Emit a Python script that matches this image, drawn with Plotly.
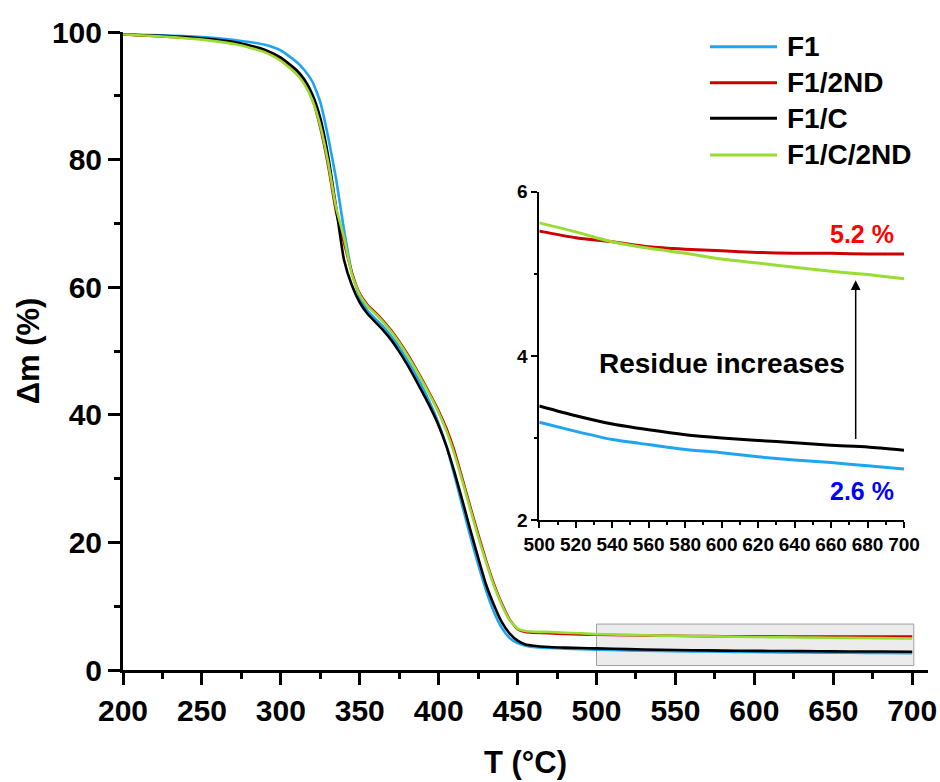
import plotly.graph_objects as go

# ---------------- data ----------------
T_main = [200, 225, 250, 275, 290, 300, 310, 315, 320, 325, 330, 335, 340, 345, 350,
          355, 360, 365, 370, 375, 380, 385, 390, 395, 400, 405, 410, 415, 420, 425,
          430, 435, 440, 445, 450, 455, 460, 470, 480, 490]
f1 = [99.6, 99.5, 99.2, 98.6, 98.0, 97.1, 95.3, 94.0, 92.2, 89.0, 83.5, 77.0, 69.0, 62.3, 58.4,
      56.3, 55.0, 53.8, 52.3, 50.6, 48.6, 46.5, 44.2, 41.6, 38.6, 35.0, 30.5, 25.7, 21.0, 16.6,
      12.5, 9.1, 6.6, 5.0, 4.2, 3.8, 3.6, 3.45, 3.35, 3.27]
f1_2nd = [99.6, 99.3, 98.9, 98.0, 96.9, 95.6, 93.5, 91.9, 89.4, 85.0, 79.0, 71.8, 67.0, 62.3, 59.0,
          57.2, 56.0, 54.7, 53.2, 51.5, 49.6, 47.5, 45.3, 43.0, 40.6, 37.8, 34.3, 30.0, 25.6, 21.3,
          17.2, 13.5, 10.4, 7.9, 6.4, 5.95, 5.85, 5.75, 5.65, 5.58]
f1_c = [99.6, 99.4, 99.0, 98.2, 97.2, 96.0, 94.0, 92.5, 90.2, 86.5, 80.5, 72.5, 64.3, 60.3, 57.6,
        55.8, 54.5, 53.2, 51.7, 49.9, 47.9, 45.7, 43.4, 41.0, 38.3, 35.0, 31.0, 26.6, 22.0, 17.6,
        13.4, 10.2, 7.5, 5.7, 4.6, 4.0, 3.8, 3.6, 3.5, 3.45]
f1_c_2nd = [99.6, 99.3, 98.8, 97.9, 96.8, 95.5, 93.4, 91.8, 89.3, 85.3, 79.5, 72.5, 67.8, 62.0, 58.8,
            57.0, 55.8, 54.5, 53.0, 51.3, 49.4, 47.3, 45.1, 42.8, 40.3, 37.4, 33.8, 29.6, 25.2, 20.9,
            16.9, 13.2, 10.2, 7.8, 6.5, 6.1, 6.0, 5.95, 5.85, 5.75]

T_tail = [500, 520, 540, 560, 580, 600, 620, 640, 660, 680, 700]
f1_tail = [3.19, 3.08, 2.98, 2.92, 2.86, 2.82, 2.77, 2.73, 2.70, 2.66, 2.62]
f1_2nd_tail = [5.52, 5.44, 5.39, 5.33, 5.30, 5.28, 5.26, 5.25, 5.25, 5.24, 5.24]
f1_c_tail = [3.39, 3.27, 3.17, 3.10, 3.04, 3.00, 2.97, 2.94, 2.91, 2.89, 2.85]
f1_c_2nd_tail = [5.62, 5.51, 5.39, 5.31, 5.25, 5.18, 5.13, 5.08, 5.03, 4.99, 4.94]

names = ["F1", "F1/2ND", "F1/C", "F1/C/2ND"]
colors = ["#1ea5f2", "#cc0000", "#000000", "#99dd33"]
series_main = [f1, f1_2nd, f1_c, f1_c_2nd]
series_tail = [f1_tail, f1_2nd_tail, f1_c_tail, f1_c_2nd_tail]

label_high = "5.2 %"
label_low = "2.6 %"
label_arrow = "Residue increases"

# ---------------- layout geometry ----------------
W, H = 940, 782
L, R, TOP, BOT = 123, 12, 32, 112
PW, PH = W - L - R, H - TOP - BOT


def px(x):
    return (x - L) / PW


def py(y):
    return (H - BOT - y) / PH


FONT = "Liberation Sans, Arial, Helvetica, sans-serif"

fig = go.Figure()

for name, col, ym, yt in zip(names, colors, series_main, series_tail):
    fig.add_trace(go.Scatter(x=T_main + T_tail, y=ym + yt, mode="lines", name=name,
                             line=dict(color=col, width=2.6, shape="spline", smoothing=0.5),
                             showlegend=False, xaxis="x", yaxis="y"))

for name, col, yt in zip(names, colors, series_tail):
    fig.add_trace(go.Scatter(x=T_tail, y=yt, mode="lines", name=name,
                             line=dict(color=col, width=3, shape="spline", smoothing=0.6),
                             showlegend=False, xaxis="x2", yaxis="y2"))

axis_common = dict(showline=True, linecolor="black", ticks="outside", tickcolor="black",
                   showgrid=False, zeroline=False, automargin=False)

fig.update_layout(
    width=W, height=H,
    margin=dict(l=L, r=R, t=TOP, b=BOT, autoexpand=False),
    plot_bgcolor="white", paper_bgcolor="white",
    font=dict(family=FONT, color="black"),
    xaxis=dict(**axis_common, range=[200, 710], dtick=50, tick0=200, linewidth=3,
               ticklen=12, tickwidth=2.5,
               minor=dict(dtick=25, ticklen=6, tickwidth=2.5, ticks="outside", tickcolor="black"),
               tickfont=dict(size=30, weight="bold", family=FONT),
               title=dict(text="T (°C)", font=dict(size=31, weight="bold", family=FONT), standoff=26)),
    yaxis=dict(**axis_common, range=[0, 100], dtick=20, linewidth=3,
               ticklen=12, tickwidth=2.5,
               minor=dict(dtick=10, ticklen=6, tickwidth=2.5, ticks="outside", tickcolor="black"),
               tickfont=dict(size=30, weight="bold", family=FONT),
               title=dict(text="Δm (%)", font=dict(size=31, weight="bold", family=FONT), standoff=4)),
    xaxis2=dict(**axis_common, domain=[px(539.3), px(904)], anchor="y2", range=[500, 700],
                dtick=20, linewidth=2, ticklen=6, tickwidth=2,
                minor=dict(dtick=10, ticklen=3, tickwidth=1.5, ticks="outside", tickcolor="black"),
                tickfont=dict(size=19, weight="bold", family=FONT)),
    yaxis2=dict(**axis_common, domain=[py(520), py(191.7)], anchor="x2", range=[2, 6],
                tickvals=[2, 4, 6], linewidth=2, ticklen=6, tickwidth=2,
                minor=dict(dtick=1, ticklen=3, tickwidth=1.5, ticks="outside", tickcolor="black"),
                tickfont=dict(size=19, weight="bold", family=FONT)),
)

# highlighted region on the main plot
fig.add_shape(type="rect", xref="x", yref="y", x0=500, x1=701, y0=0.7, y1=7.2,
              fillcolor="rgba(200,200,200,0.35)", line=dict(color="#a0a0a0", width=1),
              layer="below")

# manual legend
leg_y = [46.7, 82.7, 118.3, 155]
for name, col, yy in zip(names, colors, leg_y):
    fig.add_shape(type="line", xref="paper", yref="paper", x0=px(710), x1=px(777),
                  y0=py(yy), y1=py(yy), line=dict(color=col, width=3))
    fig.add_annotation(xref="paper", yref="paper", x=px(785), y=py(yy), text=name,
                       showarrow=False, xanchor="left", yanchor="middle",
                       font=dict(size=28, weight="bold", family=FONT, color="black"))

# inset annotations
fig.add_annotation(xref="x2", yref="y2", x=677, y=5.48, text=label_high, showarrow=False,
                   font=dict(size=25, weight="bold", family=FONT, color="#ff0000"))
fig.add_annotation(xref="x2", yref="y2", x=677, y=2.35, text=label_low, showarrow=False,
                   font=dict(size=25, weight="bold", family=FONT, color="#0000ff"))
fig.add_annotation(xref="x2", yref="y2", x=600, y=3.91, text=label_arrow, showarrow=False,
                   font=dict(size=28, weight="bold", family=FONT, color="black"))
fig.add_annotation(xref="x2", yref="y2", axref="x2", ayref="y2", x=673.5, y=4.92,
                   ax=673.5, ay=2.97, text="", showarrow=True, arrowhead=2, arrowsize=1.3,
                   arrowwidth=1.5, arrowcolor="black")

fig.write_html("out.html", config={"displayModeBar": False},
               post_script="document.body.style.margin='0';document.body.style.padding='0';")
